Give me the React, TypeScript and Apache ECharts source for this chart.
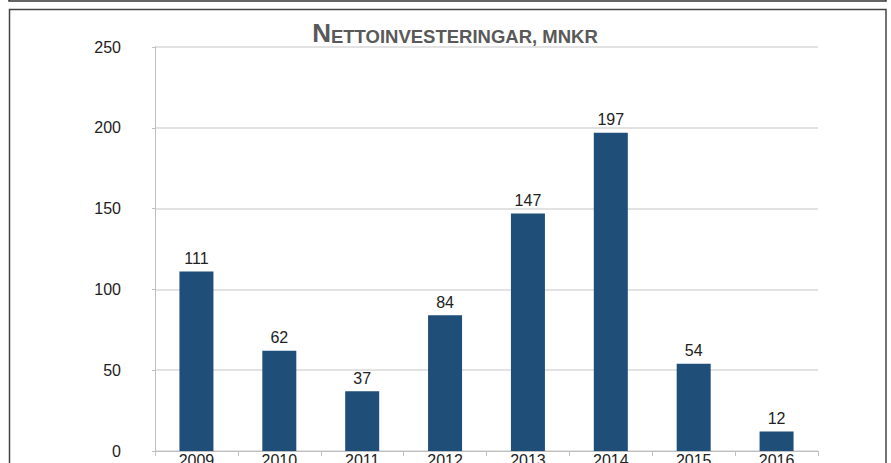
import React, { useEffect, useRef } from "react";
import * as echarts from "echarts";

const categories = ["2009", "2010", "2011", "2012", "2013", "2014", "2015", "2016"];
const values = [111, 62, 37, 84, 147, 197, 54, 12];
const yTicks = { min: 0, max: 250, interval: 50 };

export default function App() {
  const ref = useRef<HTMLDivElement>(null);
  useEffect(() => {
    const chart = echarts.init(ref.current!, null, { renderer: "svg" });
    chart.setOption({
      animation: false,
      backgroundColor: "#ffffff",
      textStyle: { fontFamily: "Liberation Sans, Arial, sans-serif" },
      title: {
        text: "{a|N}{b|ETTOINVESTERINGAR, MNKR}",
        left: 450,
        textAlign: "center",
        top: 15,
        textStyle: {
          rich: {
            a: { fontSize: 26, fontWeight: "bold", color: "#595959", fontFamily: "Liberation Sans, Arial, sans-serif", verticalAlign: "bottom" },
            b: { fontSize: 18.5, fontWeight: "bold", color: "#595959", fontFamily: "Liberation Sans, Arial, sans-serif", verticalAlign: "bottom" },
          },
        },
      },
      graphic: [
        { type: "rect", shape: { x: 9, y: -20, width: 877, height: 21 }, style: { fill: "none", stroke: "#333", lineWidth: 1.5 } },
        { type: "rect", shape: { x: 9.5, y: 9.5, width: 876.5, height: 470 }, style: { fill: "none", stroke: "#444", lineWidth: 1.5 } },
      ],
      grid: { left: 155, right: 73, top: 47, bottom: 12, outerBoundsMode: "none", containLabel: false },
      xAxis: {
        type: "category",
        data: categories,
        axisLine: { show: true, lineStyle: { color: "#bfbfbf", width: 1 } },
        axisTick: { show: true, length: 5, lineStyle: { color: "#bfbfbf" } },
        axisLabel: { margin: 1, fontSize: 16, color: "#222" },
      },
      yAxis: {
        type: "value",
        min: yTicks.min,
        max: yTicks.max,
        interval: yTicks.interval,
        axisLine: { show: true, lineStyle: { color: "#bfbfbf", width: 1 } },
        axisTick: { show: true, length: 3, lineStyle: { color: "#bfbfbf" } },
        splitLine: { show: true, lineStyle: { color: "#d9d9d9", width: 1.5 } },
        axisLabel: { margin: 34, fontSize: 16, color: "#222" },
      },
      series: [
        {
          type: "bar",
          data: values,
          barWidth: 34,
          itemStyle: { color: "#1F4E79" },
          label: { show: true, position: "top", distance: 5, fontSize: 16, color: "#222" },
        },
      ],
    });
    return () => chart.dispose();
  }, []);
  return <div ref={ref} style={{ position: "absolute", left: 0, top: 0, width: 891, height: 463 }} />;
}
